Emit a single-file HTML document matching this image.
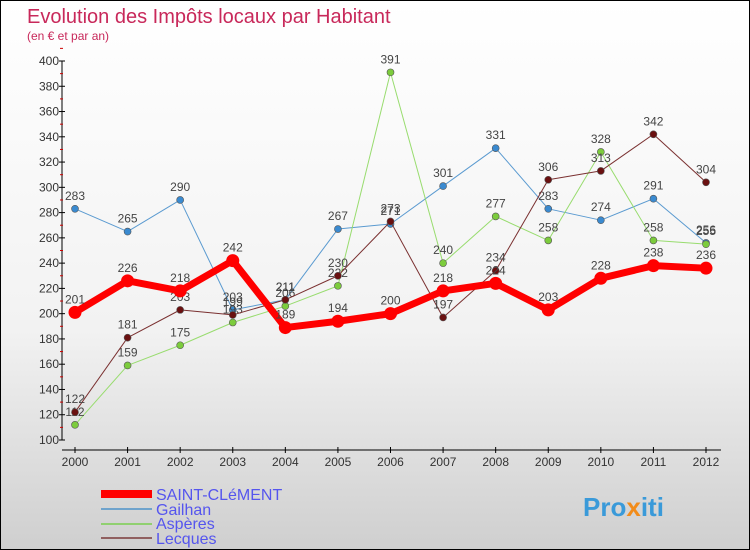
<!DOCTYPE html>
<html><head><meta charset="utf-8"><style>
body{margin:0}
#c{width:748px;height:548px;border:1px solid #000;background:linear-gradient(#fff 0%,#f2f2f2 60%,#cfcfcf 100%);position:relative;font-family:"Liberation Sans",sans-serif;overflow:hidden}
</style></head><body>
<div id="c">
<svg id="s" width="748" height="548" xmlns="http://www.w3.org/2000/svg">
<text x="26" y="22" font-size="20" fill="#c8285a">Evolution des Impôts locaux par Habitant</text>
<text x="26" y="39" font-size="12" fill="#c8285a">(en € et par an)</text>
<g id="axes"></g><g id="series"></g>
<g>
<rect x="100" y="489" width="51" height="8" fill="#f00"/>
<text x="155" y="499" font-size="16" fill="#5555ee">SAINT-CLéMENT</text>
<rect x="100" y="507" width="51" height="2" fill="#6fa3cc"/>
<text x="155" y="514" font-size="16" fill="#5555ee">Gailhan</text>
<rect x="100" y="522" width="51" height="2" fill="#90d070"/>
<text x="155" y="528" font-size="16" fill="#5555ee">Aspères</text>
<rect x="100" y="536" width="51" height="2" fill="#906060"/>
<text x="155" y="543" font-size="16" fill="#5555ee">Lecques</text>
</g>
<text x="582" y="515" font-size="26" font-weight="bold" fill="#3a9ad9">Pro<tspan fill="#f28c1a">x</tspan>iti</text>
</svg></div>
<script>
const years=[2000,2001,2002,2003,2004,2005,2006,2007,2008,2009,2010,2011,2012];
const yTicks=[100,120,140,160,180,200,220,240,260,280,300,320,340,360,380,400];
const stClement=[201,226,218,242,189,194,200,218,224,203,228,238,236];
const gailhan=[283,265,290,203,211,267,271,301,331,283,274,291,256];
const asperes=[112,159,175,193,206,222,391,240,277,258,328,258,255];
const lecques=[122,181,203,199,211,230,273,197,234,306,313,342,304];
const NS="http://www.w3.org/2000/svg";
const xs=i=>74+i*(705-74)/(years.length-1);
const ys=v=>439-(v-100)*(379/300);
function mk(t,a,p){const e=document.createElementNS(NS,t);for(const k in a)e.setAttribute(k,a[k]);p.appendChild(e);return e;}
const ax=document.getElementById('axes');
const yl=mk('line',{x1:61,y1:ys(400),x2:61,y2:ys(100),stroke:'#000'},ax);


yTicks.forEach(v=>{
 const t=mk('text',{x:58,y:ys(v)+4,'font-size':12,'text-anchor':'end',fill:'#333'},ax);t.textContent=v;
 
 
 mk('line',{x1:58,y1:ys(v),x2:64,y2:ys(v),stroke:'#000'},ax);
 mk('line',{x1:59,y1:ys(v+10),x2:62,y2:ys(v+10),stroke:'#c00'},ax);
});
const xl=mk('line',{x1:61,y1:449,x2:720,y2:449,stroke:'#000'},ax);


years.forEach((y,i)=>{
 mk('line',{x1:xs(i),y1:446,x2:xs(i),y2:452,stroke:'#000'},ax);
 const t=mk('text',{x:xs(i),y:465,'font-size':12,'text-anchor':'middle',fill:'#333'},ax);t.textContent=y;
 
 
});
const sg=document.getElementById('series');
function draw(arr,name,col,w,r,dot){
 const g=mk('g',{},sg);
 
 
 const pl=mk('polyline',{points:arr.map((v,i)=>xs(i)+','+ys(v)).join(' '),fill:'none',stroke:col,'stroke-width':w,'stroke-linejoin':'round'},g);
 
 
 arr.forEach((v,i)=>{
  const c=mk('circle',{cx:xs(i),cy:ys(v),r:r,fill:dot,stroke:'#555','stroke-width':w>4?0:0.6},g);
  
  
  const t=mk('text',{x:xs(i),y:ys(v)-9,'font-size':12,'text-anchor':'middle',fill:'#444'},g);t.textContent=v;
  
  
 });
}
draw(gailhan,'gailhan','#5a9ad0',1,3.5,'#3a8ad0');
draw(asperes,'asperes','#98dc6e',1,3.5,'#7ccc3c');
draw(lecques,'lecques','#7a3030',1,3.5,'#6a1010');
draw(stClement,'saint-clement','#f00',7,6.5,'#f00');
</script>
</body></html>
